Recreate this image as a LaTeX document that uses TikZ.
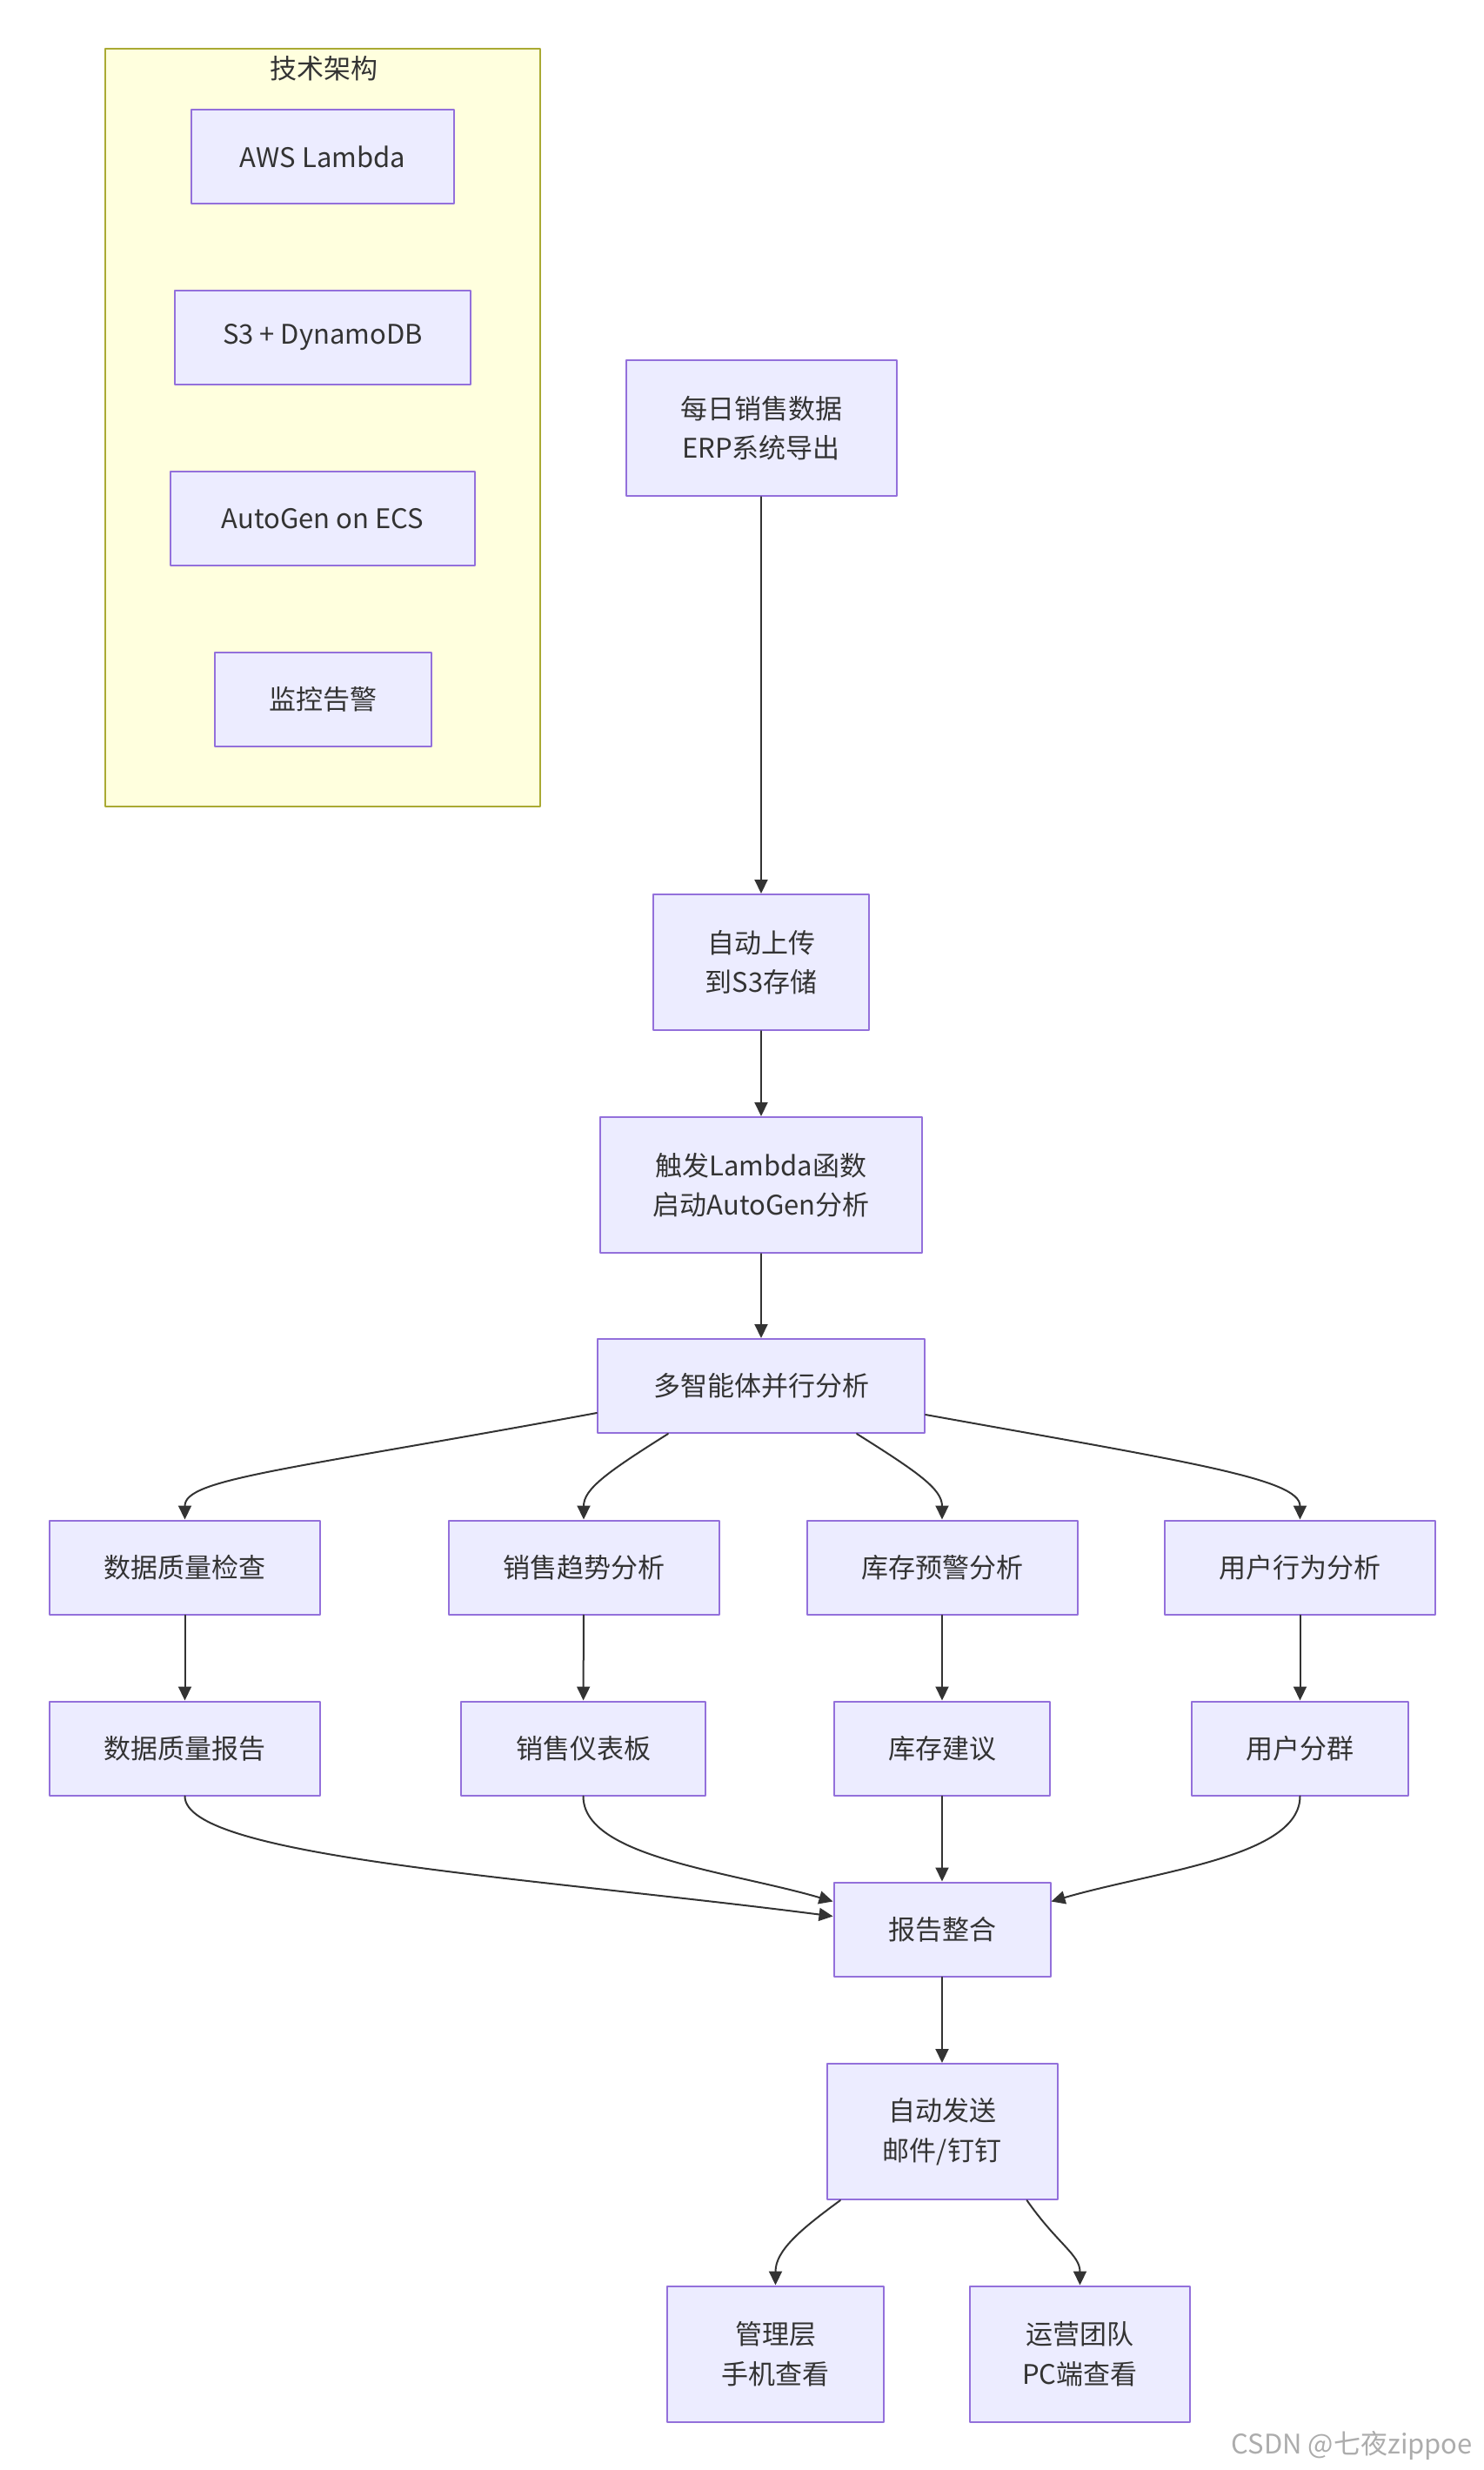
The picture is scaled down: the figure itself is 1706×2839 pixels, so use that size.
\documentclass[tikz,border=0pt]{standalone}
\usepackage{fontspec}
\newfontfamily\cjk{Noto Sans CJK SC}
\usetikzlibrary{arrows.meta,calc}
\definecolor{boxfill}{HTML}{ECECFF}
\definecolor{boxline}{HTML}{9370DB}
\definecolor{grpfill}{HTML}{FFFFDE}
\definecolor{grpline}{HTML}{AAAA33}
\definecolor{ink}{HTML}{333333}
\begin{document}
\begin{tikzpicture}[>={Triangle[length=8pt,width=7.5pt]},line join=round,line cap=round,font=\cjk\fontsize{15.5}{22.8}\selectfont,x=0.5pt,y=-0.5pt]
	\tikzset{box/.style={draw=boxline,fill=boxfill,line width=1pt,text=ink,align=center,inner sep=0pt,minimum height=54pt},
		tall/.style={box,minimum height=78pt},
		link/.style={->,draw=ink,line width=1pt}}
	\useasboundingbox (0,0) rectangle (1706,2839);
	% tech stack group
	\node[draw=grpline,fill=grpfill,line width=1pt,minimum width=250pt,minimum height=435.5pt,inner sep=0pt] (frame) at (371,491.5) {};
	\node[text=ink] (ttl) at (372,79) {技术架构};
	\foreach \i/\y/\w/\txt in {1/180/151/AWS Lambda,2/388/170/S3 + DynamoDB,3/596/175/AutoGen on ECS,4/804/124.5/监控告警}{
		\node[box,minimum width=\w pt] (t\i) at (371,\y) {\txt};
	}
	% main flow
	\node[tall,minimum width=155.5pt] (src) at (875,492) {每日销售数据\\ERP系统导出};
	\node[tall,minimum width=124pt] (up) at (875,1106) {自动上传\\到S3存储};
	\node[tall,minimum width=185pt] (trig) at (875,1362) {触发Lambda函数\\启动AutoGen分析};
	\node[box,minimum width=188pt] (multi) at (875,1593) {多智能体并行分析};
	\foreach \i/\x/\w/\txt in {1/212.5/155.5/数据质量检查,2/671/155.5/销售趋势分析,3/1083/155.5/库存预警分析,4/1494.5/155.5/用户行为分析}{
		\node[box,minimum width=\w pt] (a\i) at (\x,1801.5) {\txt};
	}
	\foreach \i/\x/\w/\txt in {1/212.5/155.5/数据质量报告,2/670.5/140.5/销售仪表板,3/1083/124/库存建议,4/1494.5/124.5/用户分群}{
		\node[box,minimum width=\w pt] (b\i) at (\x,2009.5) {\txt};
	}
	\node[box,minimum width=124.5pt] (merge) at (1083,2217.5) {报告整合};
	\node[tall,minimum width=132.5pt] (send) at (1083,2450) {自动发送\\邮件/钉钉};
	\node[tall,minimum width=124.5pt] (mgr) at (891.5,2705.5) {管理层\\手机查看};
	\node[tall,minimum width=126.5pt] (ops) at (1241.5,2705.5) {运营团队\\PC端查看};
	\node[text=gray!65,anchor=east] (mark) at (1700,2811) {CSDN @七夜zippoe};
	% connectors
	\draw[link] (src) -- (up);
	\draw[link] (up) -- (trig);
	\draw[link] (trig) -- (multi);
	\draw[link] ($(multi.west)+(0,31)$) .. controls +(-358,66) and +(0,-47) .. (a1.north);
	\draw[link] ($(multi.south)+(-107,0)$) .. controls +(-70,44) and +(0,-35) .. (a2.north);
	\draw[link] ($(multi.south)+(110,0)$) .. controls +(70,44) and +(0,-35) .. (a3.north);
	\draw[link] ($(multi.east)+(0,33)$) .. controls +(300,54) and +(0,-47) .. (a4.north);
	\foreach \i in {1,...,4}{
		\draw[link] (a\i) -- (b\i);
	}
	\draw[link] (b1.south) .. controls +(0,70) and +(-350,-45) .. ($(merge.west)+(0,-15)$);
	\draw[link] (b2.south) .. controls +(0,70) and +(-120,-35) .. ($(merge.west)+(0,-32)$);
	\draw[link] (b3) -- (merge);
	\draw[link] (b4.south) .. controls +(0,70) and +(120,-35) .. ($(merge.east)+(0,-32)$);
	\draw[link] (merge) -- (send);
	\draw[link] ($(send.south)+(-117,0)$) .. controls +(-45,33) and +(0,-40) .. (mgr.north);
	\draw[link] ($(send.south)+(97.5,0)$) .. controls +(35,50) and +(0,-35) .. (ops.north);
\end{tikzpicture}
\end{document}
